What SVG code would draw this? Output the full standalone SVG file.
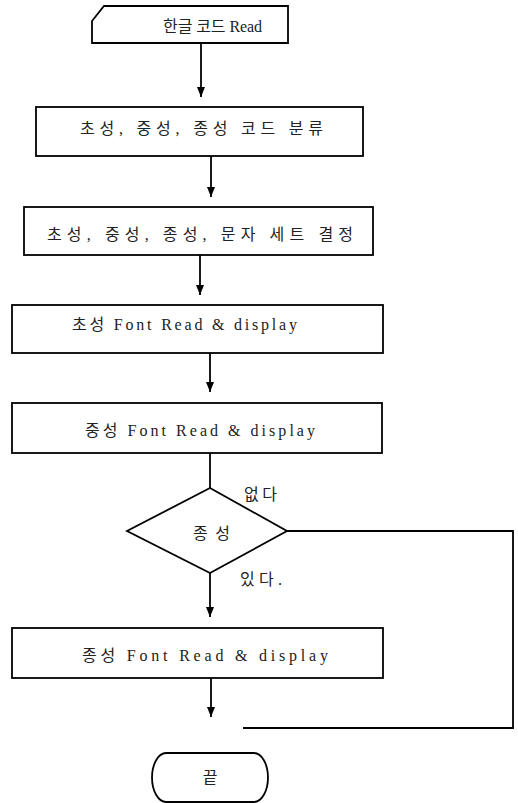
<svg xmlns="http://www.w3.org/2000/svg" width="518" height="803" viewBox="0 0 518 803">
<defs>
<marker id="ah" viewBox="0 0 10 8" refX="10" refY="4" markerWidth="10" markerHeight="8" markerUnits="userSpaceOnUse" orient="auto">
<path d="M0,0 L10,4 L0,8 Z" fill="#000"/>
</marker>
</defs>
<style>
.shape{fill:#fff;stroke:#000;stroke-width:1.8}
.line{fill:none;stroke:#000;stroke-width:1.8}
.t{font-family:"Liberation Serif","Noto Sans CJK KR",serif;font-size:16px;fill:#222}
</style>
<rect width="518" height="803" fill="#fff"/>
<g id="connectors">
<line class="line" x1="201" y1="43" x2="201" y2="97" marker-end="url(#ah)"/>
<line class="line" x1="211" y1="156" x2="211" y2="197" marker-end="url(#ah)"/>
<line class="line" x1="200" y1="255" x2="200" y2="295" marker-end="url(#ah)"/>
<line class="line" x1="210" y1="353" x2="210" y2="392" marker-end="url(#ah)"/>
<line class="line" x1="210" y1="453" x2="210" y2="488"/>
<line class="line" x1="210" y1="573" x2="210" y2="617" marker-end="url(#ah)"/>
<line class="line" x1="211" y1="678" x2="211" y2="717" marker-end="url(#ah)"/>
<polyline class="line" points="287,531 513,531 513,728 243,728"/>
</g>
<g id="n1">
<path class="shape" d="M104,6 H288 V43 H92 V21 Z"/>
<text class="t" x="163" y="32" textLength="99" lengthAdjust="spacing">한글 코드 Read</text>
</g>
<g id="n2">
<rect class="shape" x="36" y="107" width="327" height="49"/>
<text class="t" x="80" y="134" textLength="243" lengthAdjust="spacing">초성, 중성, 종성 코드 분류</text>
</g>
<g id="n3">
<rect class="shape" x="24" y="207" width="349" height="48"/>
<text class="t" x="47" y="240" textLength="306" lengthAdjust="spacing">초성, 중성, 종성, 문자 세트 결정</text>
</g>
<g id="n4">
<rect class="shape" x="12" y="305" width="371" height="48"/>
<text class="t" x="72" y="330" textLength="225" lengthAdjust="spacing">초성 Font Read &amp; display</text>
</g>
<g id="n5">
<rect class="shape" x="12" y="403" width="370" height="50"/>
<text class="t" x="85" y="436" textLength="230" lengthAdjust="spacing">중성 Font Read &amp; display</text>
</g>
<g id="n6">
<path class="shape" d="M210,488 L287,531 L210,573 L127,531 Z"/>
<text class="t" x="193" y="539" textLength="37" lengthAdjust="spacing">종성</text>
<text class="t" x="244" y="500" textLength="33" lengthAdjust="spacing">없다</text>
<text class="t" x="240" y="585" textLength="42" lengthAdjust="spacing">있다.</text>
</g>
<g id="n7">
<rect class="shape" x="12" y="628" width="371" height="50"/>
<text class="t" x="82" y="661" textLength="246" lengthAdjust="spacing">종성 Font Read &amp; display</text>
</g>
<g id="n8">
<path class="shape" d="M166,753 H254 A14,24.5 0 0 1 254,802 H166 A14,24.5 0 0 1 166,753 Z"/>
<text class="t" x="210" y="783" text-anchor="middle">끝</text>
</g>
</svg>
